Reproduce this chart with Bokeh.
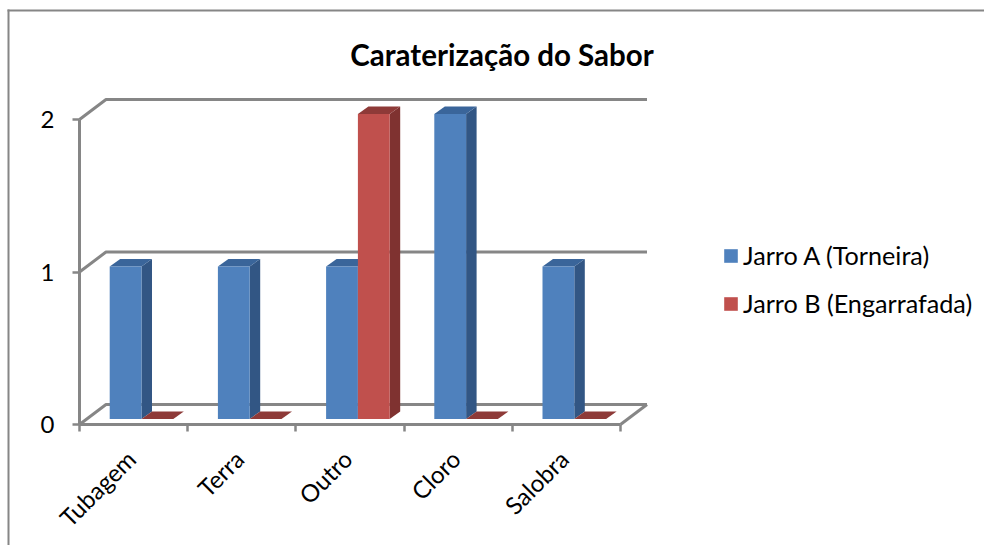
from math import pi
from bokeh.plotting import figure
from bokeh.models import FixedTicker, Legend, LegendItem, BoxAnnotation, Range1d, LinearAxis
from bokeh.core.properties import value
from bokeh.embed import file_html
from bokeh.resources import INLINE

categories = ["Tubagem", "Terra", "Outro", "Cloro", "Salobra"]
jarro_a = [1, 1, 1, 2, 1]
jarro_b = [0, 0, 2, 0, 0]
series_names = ["Jarro A (Torneira)", "Jarro B (Engarrafada)"]
title_text = "Caraterização do Sabor"
FONT = "Lato"
GRAY = "#868686"

W, H = 984, 545
LEFT, BOTTOM = 79, 121          # position of the axes' origin inside the figure
PX_X, PX_Y = 108.2, 152.5       # pixels per category / per value unit
px = lambda n: n / PX_X
py = lambda n: n / PX_Y
WALL_DX, WALL_DY = px(26.5), py(20)
BAR_OFF, BAR_W = px(30.2), px(31.8)
BAR_DX, BAR_DY = px(10.5), py(7.5)
BAR_BASE = py(5.6)
LABEL_NUDGE = px(2.5)

p = figure(width=W, height=H, output_backend="svg", toolbar_location=None,
           x_range=Range1d(-LEFT / PX_X, (W - LEFT) / PX_X),
           y_range=Range1d(-BOTTOM / PX_Y, (H - BOTTOM) / PX_Y),
           x_axis_type=None, y_axis_type=None,
           min_border_left=0, min_border_right=0, min_border_top=0, min_border_bottom=0,
           outline_line_color=None, background_fill_color="white", border_fill_color="white")
p.grid.visible = False

label_ticks = [i + 0.5 - LABEL_NUDGE for i in range(len(categories))]
xaxis = LinearAxis(
    ticker=FixedTicker(ticks=label_ticks, minor_ticks=list(range(len(categories) + 1))),
    major_label_overrides=dict(zip(label_ticks, categories)),
    major_label_orientation=pi / 4, major_label_standoff=23,
    major_label_text_font=FONT, major_label_text_font_size="24px", major_label_text_color="#000000",
    major_tick_in=0, major_tick_out=0, minor_tick_in=0, minor_tick_out=7,
    minor_tick_line_color=GRAY, minor_tick_line_width=2.5,
    axis_line_color=GRAY, axis_line_width=3, bounds=(0, len(categories)), fixed_location=0)
p.add_layout(xaxis, "below")
yaxis = LinearAxis(
    ticker=FixedTicker(ticks=[0, 1, 2]), major_label_standoff=18,
    major_label_text_font=FONT, major_label_text_font_size="24px", major_label_text_color="#000000",
    major_tick_in=0, major_tick_out=7, major_tick_line_color=GRAY, major_tick_line_width=2.5,
    minor_tick_line_color=None, axis_line_color=GRAY, axis_line_width=3, bounds=(0, 2), fixed_location=0)
p.add_layout(yaxis, "left")

# walls: back grid lines, left diagonals, floor's right diagonal
n = len(categories)
for v in [0, 1, 2]:
    p.line([0, WALL_DX, n + WALL_DX], [v, v + WALL_DY, v + WALL_DY], line_color=GRAY, line_width=3)
p.line([n, n + WALL_DX], [0, WALL_DY], line_color=GRAY, line_width=3)

def bars(vals, shift, front, side, top):
    x0 = [i + BAR_OFF + shift for i in range(len(vals))]
    x1 = [x + BAR_W for x in x0]
    y1 = [BAR_BASE + v for v in vals]
    xs_s = [[b, b + BAR_DX, b + BAR_DX, b] for b in x1]
    ys_s = [[BAR_BASE, BAR_BASE + BAR_DY, t + BAR_DY, t] for t in y1]
    xs_t = [[a, a + BAR_DX, b + BAR_DX, b] for a, b in zip(x0, x1)]
    ys_t = [[t, t + BAR_DY, t + BAR_DY, t] for t in y1]
    p.patches(xs_s, ys_s, fill_color=side, line_color=None)
    p.patches(xs_t, ys_t, fill_color=top, line_color=None)
    return p.quad(left=x0, right=x1, bottom=BAR_BASE, top=y1, fill_color=front, line_color=None)

ra = bars(jarro_a, 0, "#4F81BD", "#325684", "#3A659A")
rb = bars(jarro_b, BAR_W, "#C0504D", "#7F3230", "#8E3A38")

p.text(x=[(501.5 - LEFT) / PX_X], y=[(H - BOTTOM - 54) / PX_Y], text=[title_text],
       text_font=value(FONT), text_font_size="29.5px", text_font_style="bold",
       text_align="center", text_baseline="middle", text_color="#000000")

legend = Legend(items=[LegendItem(label=series_names[0], renderers=[ra]),
                       LegendItem(label=series_names[1], renderers=[rb])],
                location=(722, 227), orientation="vertical", border_line_color=None,
                background_fill_color=None, glyph_width=17, glyph_height=17,
                label_text_font=FONT, label_text_font_size="25.2px", label_text_color="#000000",
                label_standoff=4, spacing=18, padding=0, margin=0, label_height=26)
p.add_layout(legend, "center")

# chart frame: left and top edges (screen units run from the canvas's lower left corner)
p.add_layout(BoxAnnotation(left=7, right=9, top=H - 9, bottom=0,
                           left_units="screen", right_units="screen", top_units="screen", bottom_units="screen",
                           fill_color=GRAY, fill_alpha=1, line_color=None))
p.add_layout(BoxAnnotation(left=7, right=W, top=H - 9, bottom=H - 11,
                           left_units="screen", right_units="screen", top_units="screen", bottom_units="screen",
                           fill_color=GRAY, fill_alpha=1, line_color=None))

open("out.html", "w").write(file_html(p, INLINE))
